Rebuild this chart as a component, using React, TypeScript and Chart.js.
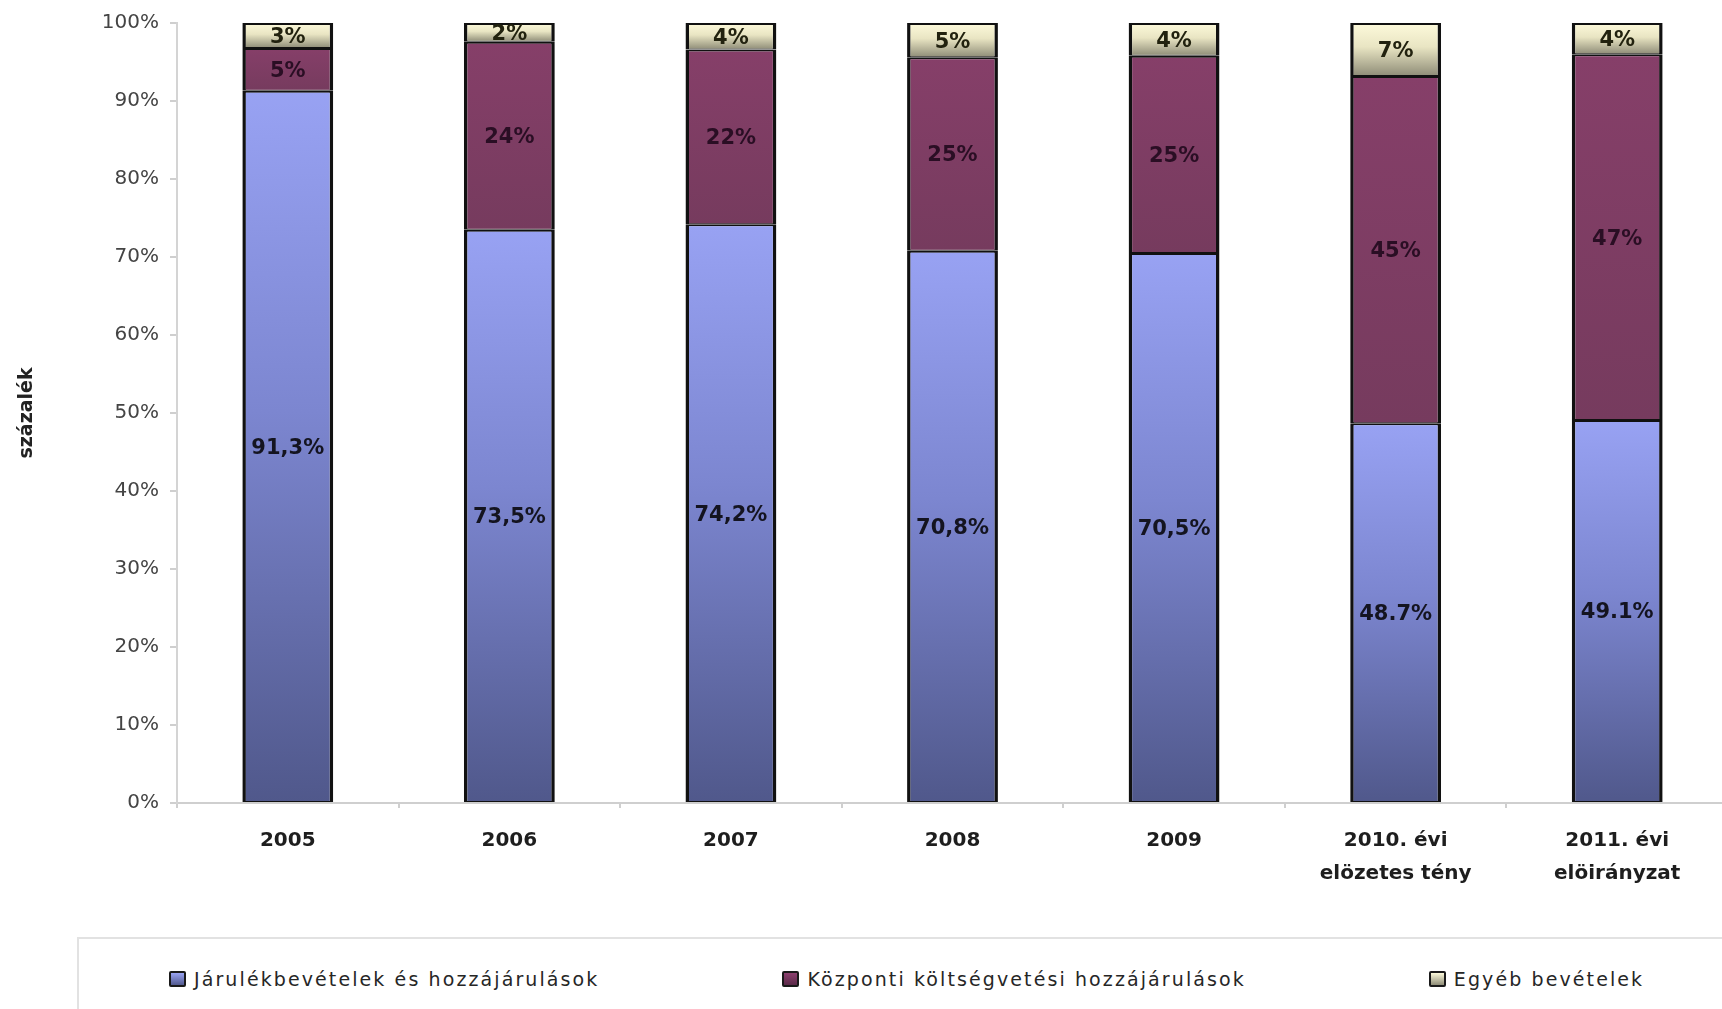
import React, { useEffect, useRef } from "react";
import { Chart, registerables } from "chart.js";

Chart.register(...registerables);

const categories: (string | string[])[] = [
  "2005",
  "2006",
  "2007",
  "2008",
  "2009",
  ["2010. évi", "elözetes tény"],
  ["2011. évi", "elöirányzat"],
];

const seriesNames = [
  "Járulékbevételek és hozzájárulások",
  "Központi költségvetési hozzájárulások",
  "Egyéb bevételek",
];

const contributions = [91.3, 73.5, 74.2, 70.8, 70.5, 48.7, 49.1];
const centralBudget = [5.5, 24.1, 22.4, 24.8, 25.3, 44.5, 46.9];
const otherIncome = [3.2, 2.4, 3.4, 4.4, 4.2, 6.8, 4.0];

const contributionsLabels = ["91,3%", "73,5%", "74,2%", "70,8%", "70,5%", "48.7%", "49.1%"];
const centralBudgetLabels = ["5%", "24%", "22%", "25%", "25%", "45%", "47%"];
const otherIncomeLabels = ["3%", "2%", "4%", "5%", "4%", "7%", "4%"];

const yTicks = [0, 10, 20, 30, 40, 50, 60, 70, 80, 90, 100];

const gradientStops: [number, string][][] = [
  [
    [0, "#98a2f3"],
    [0.45, "#7c86d0"],
    [1, "#50588b"],
  ],
  [
    [0, "#863f69"],
    [1, "#763b5e"],
  ],
  [
    [0, "#fdfadb"],
    [0.45, "#e9e5c3"],
    [1, "#8e8c77"],
  ],
];

const labelColors = ["#141420", "#2a0e24", "#22220f"];
const FONT = "'DejaVu Sans', Arial, sans-serif";

function segmentGradient(ctx: any, di: number) {
  const chart = ctx.chart;
  const y = chart.scales && chart.scales.y;
  const stops = gradientStops[di];
  if (!chart.chartArea || !y || ctx.dataIndex === undefined) return stops[0][1];
  const i = ctx.dataIndex;
  let start = 0;
  for (let d = 0; d < di; d++) start += chart.data.datasets[d].data[i] as number;
  const end = start + (chart.data.datasets[di].data[i] as number);
  const y0 = y.getPixelForValue(start);
  const y1 = y.getPixelForValue(end);
  if (!isFinite(y0) || !isFinite(y1) || y0 === y1) return stops[0][1];
  const g = chart.ctx.createLinearGradient(0, y1, 0, y0);
  stops.forEach(([o, c]) => g.addColorStop(o, c));
  return g;
}

const segmentLabels = [contributionsLabels, centralBudgetLabels, otherIncomeLabels];

const labelPlugin = {
  id: "segmentLabels",
  afterDatasetsDraw(chart: any) {
    const ctx = chart.ctx;
    ctx.save();
    ctx.font = `bold 21px ${FONT}`;
    ctx.textAlign = "center";
    ctx.textBaseline = "middle";
    chart.data.datasets.forEach((_: any, di: number) => {
      const meta = chart.getDatasetMeta(di);
      ctx.fillStyle = labelColors[di];
      meta.data.forEach((el: any, j: number) => {
        const p = el.getCenterPoint();
        ctx.fillText(segmentLabels[di][j], p.x, p.y + 2);
      });
    });
    ctx.restore();
  },
};

const legendSwatch = [
  "linear-gradient(#9aa4f4, #525a8e)",
  "linear-gradient(#8d406f, #5a2a48)",
  "linear-gradient(#fdfadb, #8e8c77)",
];

export default function App() {
  const canvasRef = useRef<HTMLCanvasElement | null>(null);

  useEffect(() => {
    if (!canvasRef.current) return;
    const datasets = [contributions, centralBudget, otherIncome].map((data, di) => ({
      label: seriesNames[di],
      data,
      backgroundColor: (c: any) => segmentGradient(c, di),
      borderColor: "#111111",
      borderWidth: { top: 2, bottom: 1, left: 3.5, right: 3.5 },
      borderSkipped: false as const,
      barPercentage: 0.41,
      categoryPercentage: 1,
    }));
    const chart = new Chart(canvasRef.current, {
      type: "bar",
      data: { labels: categories, datasets },
      options: {
        animation: false,
        responsive: false,
        devicePixelRatio: 1,
        layout: { padding: { left: 0, right: 17, top: 22, bottom: 0 } },
        plugins: {
          legend: { display: false },
          tooltip: { enabled: false },
        },
        scales: {
          x: {
            stacked: true,
            afterFit: (s: any) => {
              s.height = 132;
            },
            border: { color: "#cfcfcf", width: 2 },
            grid: {
              drawOnChartArea: false,
              drawTicks: true,
              tickLength: 5,
              color: "#cfcfcf",
              lineWidth: 2,
            },
            ticks: {
              padding: 16,
              color: "#1e1e1e",
              font: { family: FONT, size: 20, weight: "bold", lineHeight: 1.65 },
              maxRotation: 0,
              autoSkip: false,
            },
          },
          y: {
            stacked: true,
            min: 0,
            max: 100,
            afterFit: (s: any) => {
              s.width = 177;
            },
            afterBuildTicks: (s: any) => {
              s.ticks = yTicks.map((v) => ({ value: v }));
            },
            border: { color: "#d4d4d4", width: 2 },
            grid: {
              drawOnChartArea: false,
              drawTicks: true,
              tickLength: 7,
              color: "#cfcfcf",
              lineWidth: 2,
            },
            ticks: {
              padding: 11,
              color: "#444444",
              font: { family: FONT, size: 20 },
              callback: (v: any) => `${v}%`,
            },
            title: {
              display: true,
              text: "százalék",
              color: "#222222",
              font: { family: FONT, size: 19, weight: "bold" },
              padding: { top: 16, bottom: 0 },
            },
          },
        },
      },
      plugins: [labelPlugin],
    });
    return () => chart.destroy();
  }, []);

  return (
    <div
      style={{
        position: "fixed",
        left: 0,
        top: 0,
        width: 1722,
        height: 1009,
        overflow: "hidden",
        background: "#ffffff",
      }}
    >
      <canvas
        ref={canvasRef}
        width={1745}
        height={935}
        style={{ position: "absolute", left: 0, top: 0, width: 1745, height: 935 }}
      />
      <div
        style={{
          position: "absolute",
          left: 77,
          top: 937,
          width: 1700,
          height: 120,
          borderTop: "2px solid #e2e2e2",
          borderLeft: "2px solid #e2e2e2",
          boxSizing: "border-box",
          display: "flex",
          alignItems: "flex-start",
          paddingLeft: 90,
          paddingTop: 29,
          gap: 0,
          fontFamily: FONT,
          fontSize: 19,
          letterSpacing: "2.1px",
          color: "#262626",
        }}
      >
        {seriesNames.map((name, i) => (
          <div
            key={name}
            style={{
              display: "flex",
              alignItems: "center",
              marginRight: i < seriesNames.length - 1 ? 183 : 0,
              whiteSpace: "nowrap",
            }}
          >
            <span
              style={{
                display: "inline-block",
                width: 13,
                height: 12,
                border: "2px solid #1a1a1a",
                borderRadius: 2,
                background: legendSwatch[i],
                marginRight: 8,
              }}
            />
            <span>{name}</span>
          </div>
        ))}
      </div>
    </div>
  );
}
